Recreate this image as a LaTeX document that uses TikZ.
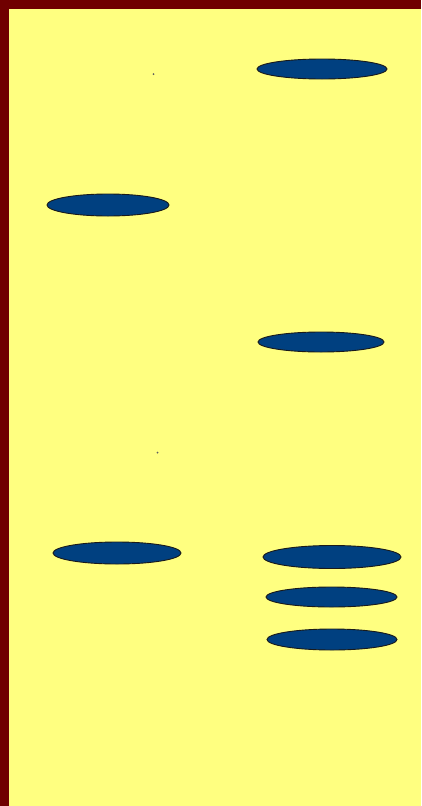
\documentclass[tikz,border=0pt]{standalone}
\usepackage{xcolor}
\usepackage{tikz}
\usetikzlibrary{shapes.geometric}
\definecolor{gelframe}{HTML}{700000}
\definecolor{gelbg}{HTML}{FFFF80}
\definecolor{bandblue}{HTML}{004080}
\definecolor{bandedge}{HTML}{1A1A1A}
\tikzset{
  band/.style={ellipse, draw=bandedge, line width=0.9pt, fill=bandblue,
    inner sep=0pt},
  well/.style={circle, fill=bandedge!70, inner sep=0pt, minimum size=2pt},
}
\begin{document}
\begin{tikzpicture}[x=1pt, y=-1pt]

  % --- Rahmen und Gel ---
  \fill[gelframe] (0,0) rectangle (421,806);
  \fill[gelbg] (9,9) rectangle (421,806);
  \useasboundingbox (0,0) rectangle (421,806);

  % --- Taschen ---
  \node[well] (wellA) at (153.5,74) {};
  \node[well] (wellB) at (157.5,452.5) {};

  % --- Banden: linke Spur ---
  \node[band, minimum width=122pt, minimum height=22pt] (lA) at (108,205) {};
  \node[band, minimum width=128pt, minimum height=22pt] (lB) at (117,553) {};

  % --- Banden: rechte Spur ---
  \node[band, minimum width=130pt, minimum height=20pt] (rA) at (322,69) {};
  \node[band, minimum width=126pt, minimum height=20pt] (rB) at (321,342) {};
  \node[band, minimum width=138pt, minimum height=23pt] (rC) at (332,557) {};
  \node[band, minimum width=131pt, minimum height=20pt] (rD) at (331.5,597) {};
  \node[band, minimum width=130pt, minimum height=21pt] (rE) at (332,639.5) {};

\end{tikzpicture}
\end{document}
